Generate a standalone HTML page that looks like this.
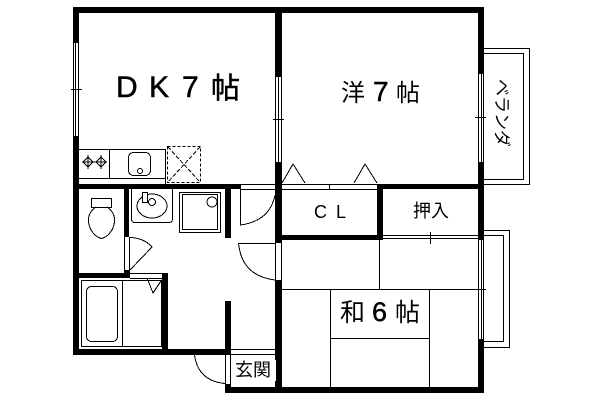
<!DOCTYPE html>
<html><head><meta charset="utf-8"><style>
html,body{margin:0;padding:0;background:#fff}
svg{display:block}
text{fill:#000;font-family:"Liberation Sans","Noto Sans CJK JP",sans-serif}
.b{stroke:#000;stroke-width:.5}
</style></head><body>
<svg width="600" height="400" viewBox="0 0 600 400" xmlns="http://www.w3.org/2000/svg">
<rect width="600" height="400" fill="#fff"/>
<g fill="#000" shape-rendering="crispEdges">
<!-- outer walls -->
<rect x="73" y="7" width="411" height="6"/>
<rect x="73" y="7" width="6" height="36"/>
<rect x="73" y="136" width="6" height="219"/>
<rect x="73" y="349" width="158" height="6"/>
<rect x="225" y="387" width="259" height="6"/>
<rect x="225" y="384" width="6" height="9"/>
<rect x="478" y="7" width="6" height="67"/>
<rect x="478" y="162" width="6" height="78"/>
<rect x="478" y="339" width="6" height="54"/>
<!-- middle wall -->
<rect x="275" y="13" width="7" height="64"/>
<rect x="275" y="162" width="7" height="81"/>
<rect x="275" y="280" width="7" height="110"/>
<!-- closets -->
<rect x="377" y="184" width="101" height="5"/>
<rect x="282" y="235" width="101" height="5"/>
<rect x="377" y="184" width="6" height="56"/>
<!-- kitchen -->
<rect x="73" y="184" width="168" height="5"/>
<rect x="124" y="184" width="5" height="53"/>
<rect x="225" y="184" width="6" height="54"/>
<rect x="124" y="270" width="6" height="8"/>
<rect x="73" y="273" width="57" height="5"/>
<rect x="162" y="273" width="6" height="82"/>
<rect x="225" y="301" width="6" height="54"/>
</g>
<rect x="275" y="360" width="1" height="21" fill="#fff"/>
<g fill="none" stroke="#000" stroke-width="1" shape-rendering="crispEdges">
<!-- windows -->
<path d="M73.5 43V136M75.5 43V136M78.5 43V136M71 89.5H82"/>
<path d="M275.5 77V162M278.5 77V162M281.5 77V162M273 119.5H284"/>
<path d="M478.5 74V162M481.5 74V162M483.5 74V162M475 117.5H486"/>
<path d="M478.5 240V339M481.5 240V339M483.5 240V339"/>
<path d="M275.5 243V280M281.5 243V280M275 280.5H282"/>
<!-- balconies -->
<path d="M484 48.5H529.5V184.5H484M484 53.5H523.5V179.5H484"/>
<path d="M484 230.5H509.5V347.5H484M484 235.5H503.5V341.5H484"/>
<!-- sliding doors -->
<path d="M282 184.5H377M282 189.5H377M329.5 184V189"/>
<path d="M383 235.5H478M383 238.5H478M430.5 232V244"/>
<!-- tatami -->
<path d="M282 289.5H486M379.5 240V289M330.5 289V387M429.5 289V387M330 338.5H429"/>
<!-- door frames -->
<path d="M241 184.5H275M241 189.5H275"/>
<path d="M124.5 237V270M129.5 237V270"/>
<path d="M130 273.5H162M130 278.5H162"/>
<path d="M231 349.5H275M231 354.5H275"/>
<path d="M225.5 355V384M230.5 355V384"/>
<!-- kitchen -->
<path d="M79 149.5H165.5V184M79 178.5H165M109.5 149V178"/>
<rect x="167.5" y="146.5" width="33" height="36" stroke-dasharray="3 2"/>
<path d="M168 147L200 182M200 147L168 182" stroke-dasharray="4 2"/>
<rect x="128.5" y="152.5" width="22" height="23" rx="5"/>
<circle cx="140" cy="171" r="2.5"/>
<path d="M88 157L93 162L88 167L83 162ZM101 157L106 162L101 167L96 162ZM82 162H107M88 155V169M101 155V169"/>
<!-- toilet -->
<rect x="91.5" y="198.5" width="20" height="9"/>
<path d="M96 207C90 211 88 216 88.500 222C89.500 230 95 237 101.500 238.500C108 237 113.500 230 114.500 222C115 216 113 211 107 207"/>
<!-- basin -->
<path d="M131.500 189V219Q131.500 222.500 135 222.500H169Q172.500 222.500 172.500 219V189"/>
<ellipse cx="152" cy="206" rx="15" ry="12"/>
<rect x="142.500" y="192.500" width="5" height="10" fill="#fff"/>
<circle cx="152" cy="202" r="3.500"/>
<!-- shower -->
<rect x="179.500" y="192.500" width="41" height="40"/>
<rect x="182.500" y="194.500" width="35" height="35"/>
<circle cx="212" cy="202" r="5"/>
<!-- bath -->
<rect x="81.500" y="280.500" width="80" height="66"/>
<path d="M122.500 281V347"/>
<rect x="86.500" y="286.500" width="31" height="55" rx="5"/>
<path d="M147 278L153 293L161 281"/>
<!-- doors -->
<path d="M240.500 189V225Q270 221 275 195"/>
<path d="M275 243.500H238.500Q242 276 275 280"/>
<path d="M130 237.500Q144 238 152 247L130 270"/>
<path d="M194.500 355Q198 381 225 383.500"/>
<!-- closet triangles -->
<path d="M282 183L293 164L305 183M354 183L365 164L377 183"/>
</g>
<text class="b" x="116" y="97" font-size="30">D</text>
<text class="b" x="149" y="97" font-size="30">K</text>
<text class="b" x="182" y="97" font-size="30">7</text>
<text class="b" x="211" y="98" font-size="29">帖</text>
<text x="341" y="101" font-size="24">洋</text>
<text class="b" x="373" y="101" font-size="28">7</text>
<text x="396" y="101" font-size="24">帖</text>
<text x="340" y="321" font-size="25">和</text>
<text class="b" x="372" y="321" font-size="27">6</text>
<text x="395" y="321" font-size="25">帖</text>
<text x="314" y="218" font-size="18" font-weight="normal">C</text>
<text x="336" y="218" font-size="18">L</text>
<text x="413" y="217" font-size="18">押入</text>
<text x="235" y="376" font-size="18">玄関</text>
<text transform="translate(496,79) rotate(90)" font-size="17">ベランダ</text>
</svg>
</body></html>
